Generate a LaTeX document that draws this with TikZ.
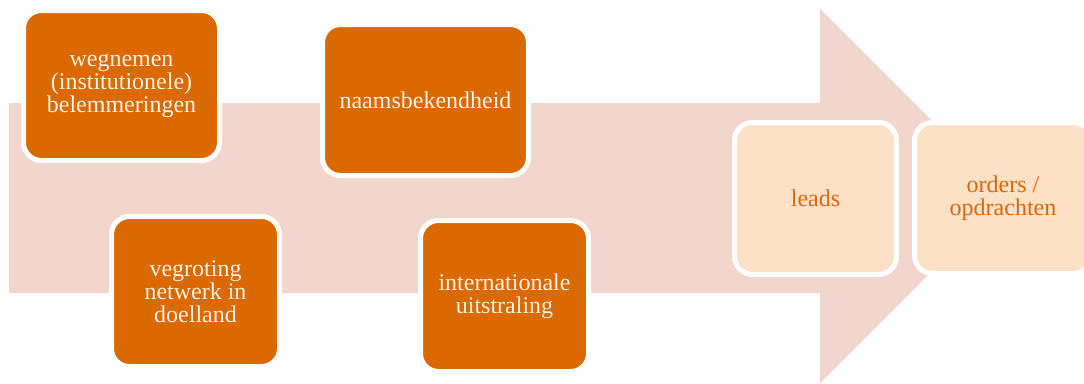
\documentclass[tikz,border=0pt]{standalone}
\usepackage{fontspec}
\setmainfont{Liberation Serif}
\definecolor{arrowfill}{HTML}{F2D5CC}
\definecolor{darkorange}{HTML}{DA6900}
\definecolor{cream}{HTML}{FDF1E6}
\definecolor{lightfill}{HTML}{FDE1C6}
\definecolor{lighttext}{HTML}{D9680A}
\begin{document}
\begin{tikzpicture}[x=1pt,y=-1pt,
  basebox/.style={rectangle, rounded corners=18pt, draw=white, line width=5pt,
    align=center, inner sep=2pt, font=\fontsize{24}{23}\selectfont},
  darkbox/.style={basebox, fill=darkorange, text=cream},
  lightbox/.style={basebox, fill=lightfill, text=lighttext}]
\useasboundingbox (0,0) rectangle (1084,383);
\fill[arrowfill] (9,103) -- (820,103) -- (820,9) -- (1007,196) -- (820,383)
  -- (820,293) -- (9,293) -- cycle;
\node[darkbox, minimum width=196pt, minimum height=150pt] (b1) at (121.5,85.5)
  {wegnemen\\(institutionele)\\belemmeringen};
\node[darkbox, minimum width=168pt, minimum height=150pt] (b2) at (195.5,291.5)
  {vegroting\\netwerk in\\doelland};
\node[darkbox, minimum width=206pt, minimum height=151pt] (b3) at (425.5,100)
  {naamsbekendheid};
\node[darkbox, minimum width=168pt, minimum height=151pt] (b4) at (504.5,296)
  {internationale\\uitstraling};
\node[lightbox, minimum width=162pt, minimum height=152pt] (b5) at (815.5,198.5)
  {leads};
\node[lightbox, minimum width=177pt, minimum height=151pt] (b6) at (1003,198)
  {orders /\\opdrachten};
\end{tikzpicture}
\end{document}
